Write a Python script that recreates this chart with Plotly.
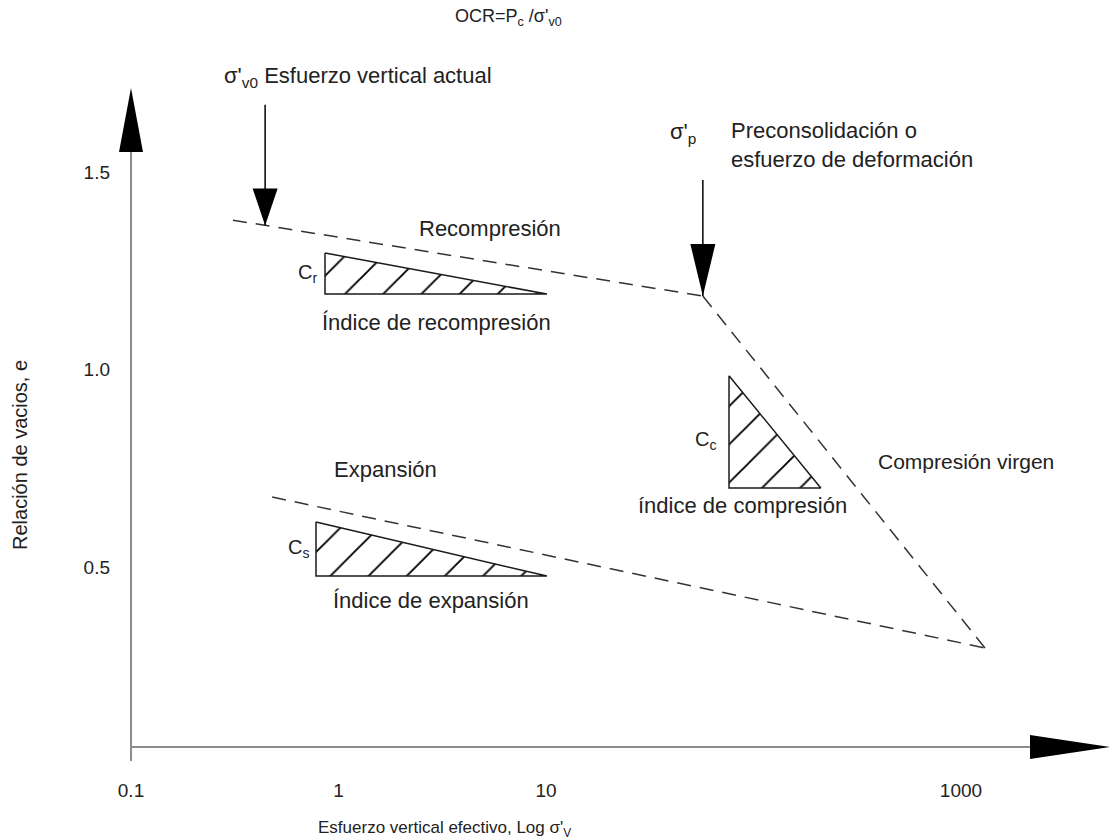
import numpy as np
import plotly.graph_objects as go

# --- data (effective vertical stress, void ratio) ---
recomp_sigma = [0.31, 57.0]
recomp_e = [1.378, 1.186]

virgin_sigma = [57.0, 1305.0]
virgin_e = [1.186, 0.295]

expan_sigma = [0.479, 1305.0]
expan_e = [0.677, 0.295]

cr_sigma = [0.861, 0.861, 10.1, 0.861]
cr_e = [1.295, 1.191, 1.191, 1.295]

cc_sigma = [76.2, 76.2, 211.0, 76.2]
cc_e = [0.984, 0.700, 0.700, 0.984]

cs_sigma = [0.779, 0.779, 10.1, 0.779]
cs_e = [0.614, 0.477, 0.477, 0.614]

sigma_v0 = 0.443      # current vertical stress
sigma_v0_top = 1.67
sigma_p = 57.0        # preconsolidation stress
sigma_p_top = 1.48

x_tickvals = [0.1, 1, 10, 1000]
x_ticktext = ["0.1", "1", "10", "1000"]
y_tickvals = [0.5, 1.0, 1.5]
y_ticktext = ["0.5", "1.0", "1.5"]

# --- axes geometry ---
W, H = 1113, 840
ML, MR, MT, MB = 131, 3, 88, 93
XMIN, XMAX = -1.0, 3.718
YMIN, YMAX = 0.0443, 1.7127

FONT = "Liberation Sans"
TXT = "#222222"
DASH_COL = "#333333"


def fx(v):
    return (np.log10(v) - XMIN) / (XMAX - XMIN)


def fy(e):
    return (e - YMIN) / (YMAX - YMIN)


def px(xp, yp):
    """page pixel -> paper fraction"""
    return ((xp - ML) / (W - ML - MR), (H - MB - yp) / (H - MT - MB))


def e_on(line_s, line_e, s):
    return float(np.interp(np.log10(s), np.log10(line_s), line_e))


fig = go.Figure()

dash = "14px,9px"
for s, e in [(recomp_sigma, recomp_e), (virgin_sigma, virgin_e), (expan_sigma, expan_e)]:
    fig.add_trace(go.Scatter(x=s, y=e, mode="lines",
                             line=dict(color=DASH_COL, width=1.5, dash=dash),
                             hoverinfo="skip", showlegend=False))

for s, e in [(cr_sigma, cr_e), (cc_sigma, cc_e), (cs_sigma, cs_e)]:
    fig.add_trace(go.Scatter(x=s, y=e, mode="lines", fill="toself",
                             fillcolor="white",
                             fillpattern=dict(shape="/", size=27, solidity=0.07,
                                              fgcolor="#000000", bgcolor="white",
                                              fgopacity=1),
                             line=dict(color="#1a1a1a", width=1.5),
                             hoverinfo="skip", showlegend=False))

# stress arrows (shafts)
e_v0_tip = e_on(recomp_sigma, recomp_e, sigma_v0)
e_p_tip = e_on(recomp_sigma, recomp_e, sigma_p)
for s, top, tip in [(sigma_v0, sigma_v0_top, e_v0_tip), (sigma_p, sigma_p_top, e_p_tip)]:
    fig.add_trace(go.Scatter(x=[s, s], y=[top, tip], mode="lines",
                             line=dict(color="black", width=1.5),
                             hoverinfo="skip", showlegend=False))

shapes = []
# axis lines
ybot = px(0, H - MB + 14)[1]
shapes.append(dict(type="line", xref="paper", yref="paper", x0=0, x1=0, y0=ybot, y1=0.97,
                   line=dict(color="#8c8c8c", width=2)))
shapes.append(dict(type="line", xref="paper", yref="paper", x0=0, x1=0.96, y0=0, y1=0,
                   line=dict(color="#8c8c8c", width=2)))
# axis arrowheads
shapes.append(dict(type="path", xref="paper", yref="paper", xsizemode="pixel", ysizemode="pixel",
                   xanchor=0, yanchor=1, path="M0,0 L-12,-64 L12,-64 Z",
                   fillcolor="black", line=dict(width=0)))
shapes.append(dict(type="path", xref="paper", yref="paper", xsizemode="pixel", ysizemode="pixel",
                   xanchor=1, yanchor=0, path="M0,0 L-80,12 L-80,-12 Z",
                   fillcolor="black", line=dict(width=0)))
# stress arrowheads
shapes.append(dict(type="path", xref="paper", yref="paper", xsizemode="pixel", ysizemode="pixel",
                   xanchor=fx(sigma_v0), yanchor=fy(e_v0_tip), path="M0,0 L-12.5,37 L12.5,37 Z",
                   fillcolor="black", line=dict(width=0)))
shapes.append(dict(type="path", xref="paper", yref="paper", xsizemode="pixel", ysizemode="pixel",
                   xanchor=fx(sigma_p), yanchor=fy(e_p_tip), path="M0,0 L-12.5,52 L12.5,52 Z",
                   fillcolor="black", line=dict(width=0)))


def label(text, xp, yp, size=22, xanchor="center", yanchor="middle", angle=0, align="center"):
    x, y = px(xp, yp)
    return dict(text=text, x=x, y=y, xref="paper", yref="paper", showarrow=False,
                xanchor=xanchor, yanchor=yanchor, textangle=angle, align=align,
                font=dict(family=FONT, size=size, color=TXT))


annotations = [
    label("OCR=P<sub>c</sub> /σ'<sub>v0</sub>", 508, 18, size=18),
    label("σ'<sub>v0</sub> Esfuerzo vertical actual", 222, 77, xanchor="left"),
    label("σ'<sub>p</sub>", 683, 133),
    label("Preconsolidación o<br>esfuerzo de deformación", 729, 145, xanchor="left", align="left"),
    label("Recompresión", 490, 228),
    label("C<sub>r</sub>", 319, 273, xanchor="right", size=20),
    label("Índice de recompresión", 436, 322),
    label("Expansión", 385, 469),
    label("C<sub>s</sub>", 311, 548, xanchor="right", size=20),
    label("Índice de expansión", 431, 600),
    label("C<sub>c</sub>", 718, 440, xanchor="right", size=20),
    label("índice de compresión", 742, 505),
    label("Compresión virgen", 966, 461, size=21),
    label("Esfuerzo vertical efectivo, Log σ'<sub>V</sub>", 444, 829, size=17),
    label("Relación de vacios, e", 20, 455, size=20, angle=-90),
]

fig.update_layout(
    width=W, height=H, autosize=False,
    margin=dict(l=ML, r=MR, t=MT, b=MB, pad=0),
    paper_bgcolor="white", plot_bgcolor="white",
    showlegend=False,
    xaxis=dict(type="log", range=[XMIN, XMAX], tickvals=x_tickvals, ticktext=x_ticktext,
               showgrid=False, zeroline=False, showline=False, ticks="",
               ticklabelstandoff=30,
               tickfont=dict(family=FONT, size=19, color=TXT)),
    yaxis=dict(range=[YMIN, YMAX], tickvals=y_tickvals, ticktext=y_ticktext,
               showgrid=False, zeroline=False, showline=False, ticks="",
               ticklabelstandoff=20,
               tickfont=dict(family=FONT, size=19, color=TXT)),
    shapes=shapes,
    annotations=annotations,
)

fig.write_html("out.html")
